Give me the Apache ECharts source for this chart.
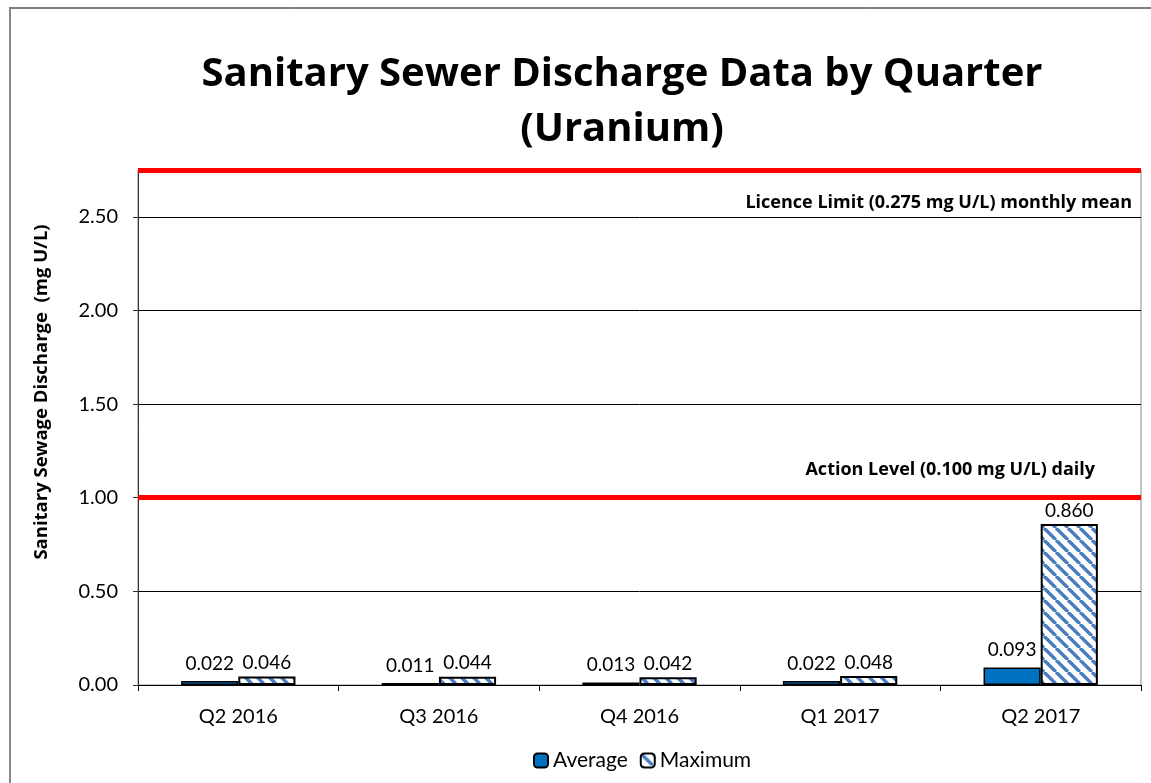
<!DOCTYPE html>
<html>
<head>
<meta charset="utf-8">
<script src="https://cdn.jsdelivr.net/npm/echarts@6/dist/echarts.min.js"></script>
<style>
  html, body { margin: 0; padding: 0; background: #fff; }
  #main { width: 1151px; height: 783px; }
</style>
</head>
<body>
<div id="main"></div>
<script>
// data
const quarters = ["Q2 2016", "Q3 2016", "Q4 2016", "Q1 2017", "Q2 2017"];
const averageVals = [0.022, 0.011, 0.013, 0.022, 0.093];
const maximumVals = [0.046, 0.044, 0.042, 0.048, 0.860];
const yTicks = [0, 0.5, 1.0, 1.5, 2.0, 2.5];
const limitValues = [2.75, 1.0];
const limitNames = ["Licence Limit (0.275 mg U/L) monthly mean", "Action Level (0.100 mg U/L) daily"];

// diagonal hatch for the Maximum bars
function hatch() {
	let s = 12;
	let c = document.createElement("canvas");
	c.width = s; c.height = s;
	let ctx = c.getContext("2d");
	ctx.fillStyle = "#fff";
	ctx.fillRect(0, 0, s, s);
	ctx.strokeStyle = "#4A7EC0";
	ctx.lineWidth = 3.4;
	for (let k = -1; k <= 1; k++) {
		ctx.beginPath();
		ctx.moveTo(k * s, 0);
		ctx.lineTo(k * s + s, s);
		ctx.stroke();
	}
	return c;
}

let font = "Lato, 'Open Sans', sans-serif";
let boldFont = "'Open Sans', Lato, sans-serif";
let myChart = echarts.init(document.getElementById("main"), null, { renderer: "canvas" });

let option = {
	animation: false,
	textStyle: { fontFamily: font },
	graphic: [
		{ type: "line", shape: { x1: 9, y1: 8, x2: 1151, y2: 8 }, style: { stroke: "#000", lineWidth: 1 } },
		{ type: "line", shape: { x1: 10, y1: 8, x2: 10, y2: 783 }, style: { stroke: "#888", lineWidth: 2 } },
		{ type: "text", x: 622, y: 75, style: { text: "Sanitary Sewer Discharge Data by Quarter", font: "bold 40px " + boldFont, fill: "#000", textAlign: "center", textVerticalAlign: "middle" } },
		{ type: "text", x: 622, y: 130, style: { text: "(Uranium)", font: "bold 40px " + boldFont, fill: "#000", textAlign: "center", textVerticalAlign: "middle" } },
		{ type: "text", x: 42, y: 392, rotation: Math.PI / 2, style: { text: "Sanitary Sewage Discharge  (mg U/L)", font: "bold 18.5px " + boldFont, fill: "#000", textAlign: "center", textVerticalAlign: "middle" } }
	],
	grid: {
		left: 138, right: 10, top: 170, bottom: 98,
		show: true, borderColor: "#888", borderWidth: 1
	},
	legend: {
		left: 528, top: 745,
		itemWidth: 14, itemHeight: 14, itemGap: 12,
		textStyle: { fontSize: 21, color: "#000", fontFamily: font },
		data: ["Average", "Maximum"]
	},
	xAxis: {
		type: "category",
		data: quarters,
		axisLine: { lineStyle: { color: "#000", width: 1 } },
		axisTick: { show: true, length: 6, lineStyle: { color: "#000" } },
		axisLabel: { fontSize: 20, color: "#000", margin: 22 }
	},
	yAxis: {
		type: "value",
		min: 0, max: 2.75, interval: 0.5,
		axisLine: { show: true, lineStyle: { color: "#333", width: 1 } },
		axisTick: { show: true, length: 5, lineStyle: { color: "#333" }, customValues: yTicks },
		axisLabel: { fontSize: 20, color: "#000", margin: 20, customValues: yTicks, formatter: v => v.toFixed(2) },
		splitLine: { lineStyle: { color: "#000", width: 1 } }
	},
	series: [
		{
			name: "Average",
			type: "bar",
			data: averageVals,
			barGap: "0%",
			barCategoryGap: "43%",
			itemStyle: { color: "#0070C0", borderColor: "#000", borderWidth: 1.5 },
			label: { show: true, position: "top", distance: 8, fontSize: 19, color: "#000", formatter: p => p.value.toFixed(3) },
			markLine: {
				silent: true,
				symbol: ["none", "none"],
				lineStyle: { color: "#FF0000", width: 5, type: "solid" },
				label: { show: true, fontSize: 18, fontWeight: "bold", color: "#000", fontFamily: boldFont },
				data: [
					{ yAxis: limitValues[0], label: { position: "insideEndBottom", formatter: limitNames[0], distance: [9, 24] } },
					{ yAxis: limitValues[1], label: { position: "insideEndTop", formatter: limitNames[1], distance: [46, 19] } }
				]
			}
		},
		{
			name: "Maximum",
			type: "bar",
			data: maximumVals,
			itemStyle: { color: { image: hatch(), repeat: "repeat" }, borderColor: "#000", borderWidth: 2 },
			label: { show: true, position: "top", distance: 4, fontSize: 19, color: "#000", formatter: p => p.value.toFixed(3) }
		}
	]
};
myChart.setOption(option);
</script>
</body>
</html>
